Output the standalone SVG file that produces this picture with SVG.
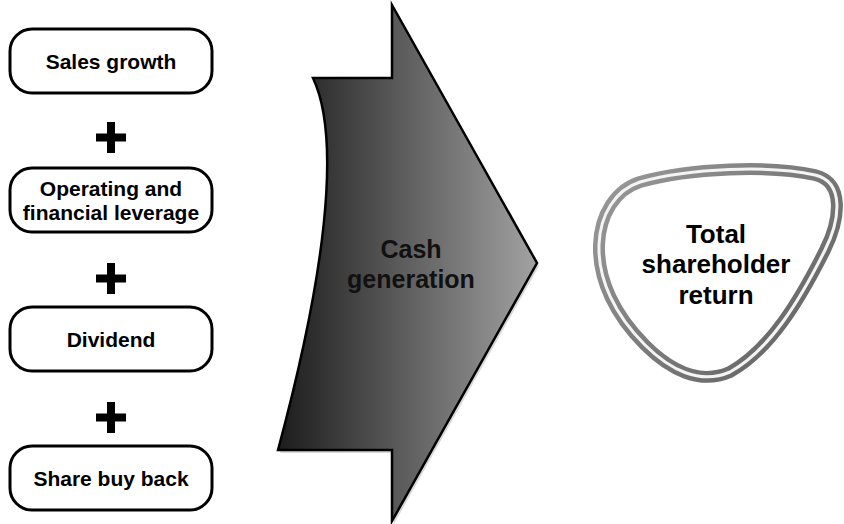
<svg xmlns="http://www.w3.org/2000/svg" width="844" height="524" viewBox="0 0 844 524">
  <defs>
    <linearGradient id="arrowGrad" x1="278" y1="0" x2="537" y2="0" gradientUnits="userSpaceOnUse">
      <stop offset="0" stop-color="#1c1c1c"/>
      <stop offset="1" stop-color="#a2a2a2"/>
    </linearGradient>
    <linearGradient id="ringGrad" x1="600" y1="170" x2="840" y2="380" gradientUnits="userSpaceOnUse">
      <stop offset="0" stop-color="#9a9a9a"/>
      <stop offset="0.5" stop-color="#7a7a7a"/>
      <stop offset="1" stop-color="#5e5e5e"/>
    </linearGradient>
  </defs>
  <style>
    .box { fill: #ffffff; stroke: #000000; stroke-width: 3; }
    .lbl { font-family: "Liberation Sans", Arial, Helvetica, sans-serif; font-weight: bold; fill: #000000; text-anchor: middle; }
    .small { font-size: 21px; }
    .big { font-size: 25px; fill: #111111; }
    .blobtxt { font-size: 26px; }
    .plus { fill: #000000; }
  </style>
  <rect width="844" height="524" fill="#ffffff"/>

  <g id="sales-growth">
    <rect class="box" x="10" y="29" width="202" height="64" rx="22"/>
    <text class="lbl small" x="111" y="69">Sales growth</text>
  </g>
  <g id="operating-leverage">
    <rect class="box" x="10" y="168" width="202" height="64" rx="22"/>
    <text class="lbl small" x="111" y="196">Operating and</text>
    <text class="lbl small" x="111" y="220">financial leverage</text>
  </g>
  <g id="dividend">
    <rect class="box" x="10" y="307" width="202" height="64" rx="22"/>
    <text class="lbl small" x="111" y="347">Dividend</text>
  </g>
  <g id="share-buy-back">
    <rect class="box" x="10" y="446" width="202" height="64" rx="22"/>
    <text class="lbl small" x="111" y="486">Share buy back</text>
  </g>

  <g id="connectors">
    <path class="plus" d="M107,122 h8 v11.5 h11 v8 h-11 v11.5 h-8 v-11.5 h-11 v-8 h11 z"/>
    <path class="plus" d="M107,263 h8 v11.5 h11 v8 h-11 v11.5 h-8 v-11.5 h-11 v-8 h11 z"/>
    <path class="plus" d="M107,402 h8 v11.5 h11 v8 h-11 v11.5 h-8 v-11.5 h-11 v-8 h11 z"/>
  </g>

  <g id="cash-generation">
    <path d="M394,8 L539,266 L394,524 L394,453 L280,453 C342,223 335,123 315,81 L394,81 Z" fill="#bdbdbd" opacity="0.6"/>
    <path d="M392,5 L537,263 L392,521 L392,450 L278,450 C340,220 333,120 313,78 L392,78 Z" fill="url(#arrowGrad)" stroke="#000000" stroke-width="2.5" stroke-linejoin="miter"/>
    <text class="lbl big" x="411" y="258">Cash</text>
    <text class="lbl big" x="411" y="288">generation</text>
  </g>

  <g id="total-shareholder-return">
    <path d="M640,182 C690,168 770,165 815,175 C845,182 840,220 825,250 C800,300 770,350 730,372 C700,385 670,370 645,345 C615,315 598,280 599,245 C600,215 615,190 640,182 Z" fill="#ffffff" stroke="url(#ringGrad)" stroke-width="12"/>
    <path d="M640,182 C690,168 770,165 815,175 C845,182 840,220 825,250 C800,300 770,350 730,372 C700,385 670,370 645,345 C615,315 598,280 599,245 C600,215 615,190 640,182 Z" fill="none" stroke="#f4f4f4" stroke-width="3"/>
    <text class="lbl blobtxt" x="716" y="243">Total</text>
    <text class="lbl blobtxt" x="716" y="273">shareholder</text>
    <text class="lbl blobtxt" x="716" y="304">return</text>
  </g>
</svg>
